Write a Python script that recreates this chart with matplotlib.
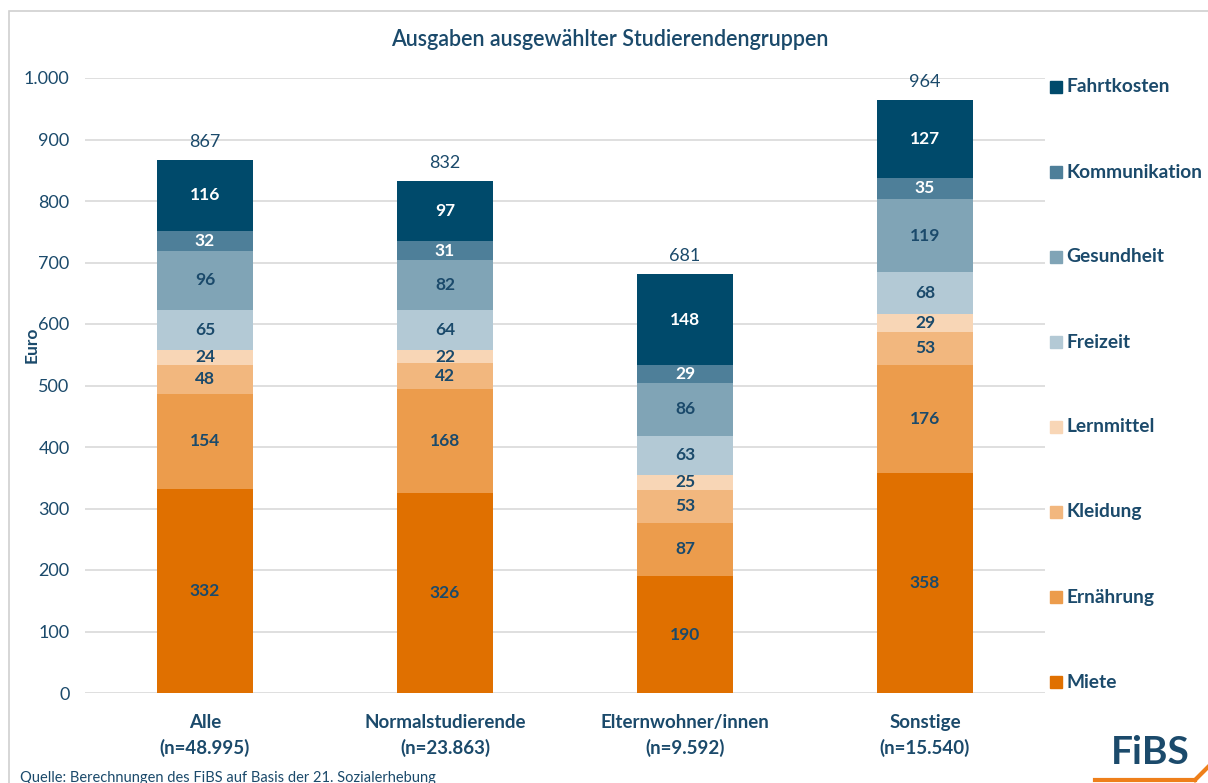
import numpy as np
import matplotlib.pyplot as plt
from matplotlib.patches import Rectangle
from matplotlib.lines import Line2D

plt.rcParams['font.family'] = ['Lato', 'DejaVu Sans']

groups = ['Alle\n(n=48.995)', 'Normalstudierende\n(n=23.863)',
          'Elternwohner/innen\n(n=9.592)', 'Sonstige\n(n=15.540)']
categories = ['Miete', 'Ernährung', 'Kleidung', 'Lernmittel',
              'Freizeit', 'Gesundheit', 'Kommunikation', 'Fahrtkosten']
values = {
    'Miete':         [332, 326, 190, 358],
    'Ernährung':     [154, 168, 87, 176],
    'Kleidung':      [48, 42, 53, 53],
    'Lernmittel':    [24, 22, 25, 29],
    'Freizeit':      [65, 64, 63, 68],
    'Gesundheit':    [96, 82, 86, 119],
    'Kommunikation': [32, 31, 29, 35],
    'Fahrtkosten':   [116, 97, 148, 127],
}
totals = [867, 832, 681, 964]

colors = {
    'Miete': '#E07000',
    'Ernährung': '#EC9C4C',
    'Kleidung': '#F2B77E',
    'Lernmittel': '#F8D6B6',
    'Freizeit': '#B3C9D5',
    'Gesundheit': '#80A4B6',
    'Kommunikation': '#4E7F99',
    'Fahrtkosten': '#004A6B',
}
white_text = ['Kommunikation', 'Fahrtkosten']
dark = '#1B4A6B'

fig = plt.figure(figsize=(12.08, 7.83), dpi=100)
ax = fig.add_axes([85/1208, 1-693/783, 960/1208, (693-78)/783])

x = np.arange(len(groups))
bottom = np.zeros(len(groups))
for cat in categories:
    v = np.array(values[cat])
    ax.bar(x, v, 0.4, bottom=bottom, color=colors[cat], zorder=2)
    tc = 'white' if cat in white_text else dark
    for xi, b, vi in zip(x, bottom, v):
        ax.text(xi, b + vi/2, str(vi), ha='center', va='center',
                fontsize=12.5, fontweight='bold', color=tc, zorder=3)
    bottom += v

# totals above the bars
for xi, t in zip(x, totals):
    ax.text(xi, t + 16, str(t), ha='center', va='bottom', fontsize=13,
            color=dark, clip_on=False)

ax.set_xlim(-0.5, 3.5)
ax.set_ylim(0, 1000)
yt = np.arange(0, 1001, 100)
ax.set_yticks(yt)
ax.set_yticklabels([f'{v:,}'.replace(',', '.') for v in yt], fontsize=13, color=dark)
ax.set_xticks(x)
ax.set_xticklabels(groups, fontsize=13.5, fontweight='bold', color=dark, linespacing=1.55)
ax.tick_params(length=0, pad=11)
ax.tick_params(axis='x', pad=15)
ax.grid(axis='y', color='#D9D9D9', linewidth=1.2, zorder=0)
ax.set_axisbelow(True)
for s in ax.spines.values():
    s.set_visible(False)

fig.text(32/1208, 1-345/783, 'Euro', rotation=90, ha='center', va='center',
         fontsize=12.5, fontweight='bold', color=dark)
fig.text(610/1208, 1-40/783, 'Ausgaben ausgewählter Studierendengruppen',
         ha='center', va='center', fontsize=15.5, fontweight='semibold', color=dark)

# legend
leg_y = [682, 597, 512, 427, 342, 257, 172, 87]
for cat, yy in zip(categories, leg_y):
    fig.add_artist(Rectangle((1050/1208, 1-(yy+6)/783), 12/1208, 12/783,
                             color=colors[cat], transform=fig.transFigure))
    fig.text(1066/1208, 1-yy/783, cat, ha='left', va='center',
             fontsize=13.8, fontweight='bold', color=dark)

# frame
fig.add_artist(Rectangle((9/1208, -0.01), 1.2, 1-11/783 + 0.01, fill=False,
                         edgecolor='#D0D0D0', linewidth=1.2, transform=fig.transFigure))

fig.text(20/1208, 1-778/783, 'Quelle: Berechnungen des FiBS auf Basis der 21. Sozialerhebung',
         ha='left', va='center', fontsize=10.5, color=dark)

# logo
fig.text(1150/1208, 1-752/783, 'FiBS', ha='center', va='center',
         fontsize=28, fontweight='bold', color='#1B4A6B')
fig.add_artist(Line2D([1095/1208, 1195/1208], [1-780/783, 1-780/783],
                      color='#EE7F1A', linewidth=3, transform=fig.transFigure))
fig.add_artist(Line2D([1195/1208, 1210/1208], [1-780/783, 1-765/783],
                      color='#EE7F1A', linewidth=3, transform=fig.transFigure))

fig.savefig('out.png', dpi=100)
